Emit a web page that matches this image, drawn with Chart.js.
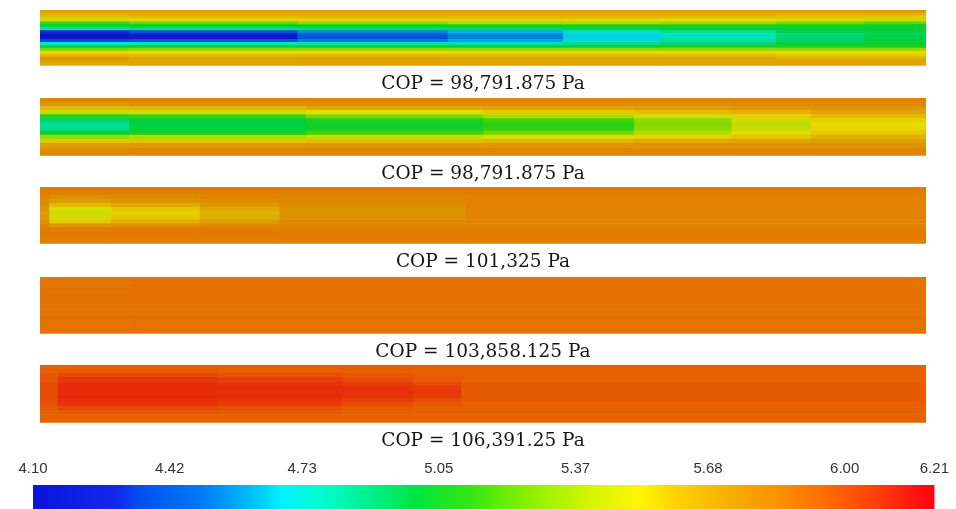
<!DOCTYPE html>
<html>
<head>
<meta charset="utf-8">
<script src="https://cdn.jsdelivr.net/npm/chart.js@4/dist/chart.umd.min.js"></script>
<style>
  html, body { margin: 0; padding: 0; background: #ffffff; }
  #wrap { position: relative; width: 956px; height: 509px; overflow: hidden; background: #ffffff; }
  .box { position: absolute; }
</style>
</head>
<body>
<div id="wrap">
  <div class="box" style="left:40px; top:10px;"><canvas id="s1" width="886" height="85"></canvas></div>
  <div class="box" style="left:40px; top:98px;"><canvas id="s2" width="886" height="87"></canvas></div>
  <div class="box" style="left:40px; top:187px;"><canvas id="s3" width="886" height="86"></canvas></div>
  <div class="box" style="left:40px; top:277px;"><canvas id="s4" width="886" height="86"></canvas></div>
  <div class="box" style="left:40px; top:365px;"><canvas id="s5" width="886" height="87"></canvas></div>
  <div class="box" style="left:0px; top:461px;"><canvas id="cbar" width="956" height="48"></canvas></div>
</div>
<script>
// ---------------- data ----------------
const copLabels = [
  'COP = 98,791.875 Pa',
  'COP = 98,791.875 Pa',
  'COP = 101,325 Pa',
  'COP = 103,858.125 Pa',
  'COP = 106,391.25 Pa'
];

const colorbarTicks = [4.10, 4.42, 4.73, 5.05, 5.37, 5.68, 6.00, 6.21];
const colorbarMin = 4.10;
const colorbarMax = 6.21;

// colour map
const cmapStops  = [4.10, 4.30, 4.35, 4.49, 4.61, 4.68, 4.77, 4.89, 5.00, 5.12, 5.26, 5.40, 5.52, 5.61, 5.73, 5.85, 5.96, 6.08, 6.21];
const cmapColors = ['#0a14dc','#1428eb','#0050f0','#0078f5','#00befa','#00f0ff','#00ffd2','#00f08c','#00e63c','#32e614','#8cf000','#d2f500','#fff500','#ffd200','#f5af00','#fa9100','#ff6900','#ff3c0a','#ff000f'];

// strip 1 : column edges (fraction of length) and values per row (top -> bottom)
const strip1Edges = [0, 0.10, 0.29, 0.46, 0.59, 0.70, 0.83, 0.93, 1.0];
const strip1Values = [
  [5.72,5.72,5.72,5.72,5.72,5.72,5.72,5.74],
  [5.66,5.67,5.67,5.67,5.67,5.67,5.66,5.66],
  [5.60,5.62,5.63,5.63,5.63,5.62,5.60,5.58],
  [5.45,5.50,5.54,5.55,5.55,5.53,5.48,5.42],
  [5.15,5.22,5.30,5.35,5.36,5.32,5.25,5.20],
  [4.98,5.00,5.03,5.06,5.08,5.08,5.06,5.04],
  [4.80,4.85,4.90,4.92,4.95,4.98,5.00,5.00],
  [4.30,4.38,4.55,4.62,4.72,4.84,4.94,4.98],
  [4.12,4.16,4.40,4.53,4.67,4.79,4.91,4.97],
  [4.14,4.18,4.40,4.53,4.67,4.79,4.91,4.97],
  [4.35,4.40,4.52,4.60,4.72,4.83,4.93,4.98],
  [4.75,4.78,4.80,4.80,4.86,4.92,4.98,5.02],
  [5.02,5.04,5.05,5.02,5.06,5.08,5.10,5.10],
  [5.25,5.28,5.30,5.30,5.30,5.30,5.30,5.30],
  [5.50,5.52,5.52,5.52,5.52,5.50,5.50,5.52],
  [5.62,5.62,5.63,5.62,5.62,5.62,5.58,5.58],
  [5.76,5.70,5.70,5.70,5.70,5.70,5.66,5.66],
  [5.72,5.70,5.70,5.70,5.70,5.70,5.70,5.70],
  [5.68,5.70,5.70,5.70,5.70,5.70,5.70,5.70]
];

const strip2Edges = [0, 0.10, 0.30, 0.50, 0.67, 0.78, 0.87, 1.0];
const strip2Values = [
  [5.84,5.84,5.84,5.84,5.84,5.84,5.84],
  [5.76,5.78,5.80,5.80,5.80,5.82,5.82],
  [5.62,5.64,5.68,5.70,5.72,5.74,5.76],
  [5.42,5.45,5.52,5.58,5.62,5.66,5.70],
  [5.12,5.15,5.26,5.36,5.46,5.55,5.62],
  [4.92,5.00,5.08,5.16,5.30,5.44,5.55],
  [4.84,4.97,5.04,5.11,5.27,5.41,5.52],
  [4.86,4.99,5.05,5.13,5.29,5.43,5.54],
  [5.02,5.08,5.16,5.24,5.37,5.50,5.58],
  [5.32,5.36,5.42,5.48,5.55,5.60,5.66],
  [5.58,5.60,5.62,5.65,5.68,5.70,5.72],
  [5.72,5.74,5.75,5.76,5.78,5.78,5.78],
  [5.80,5.82,5.82,5.82,5.83,5.83,5.83],
  [5.84,5.84,5.84,5.84,5.84,5.84,5.84]
];

const strip3Edges = [0, 0.01, 0.08, 0.18, 0.27, 0.48, 1.0];
const strip3Values = [
  [5.88,5.88,5.88,5.88,5.88,5.88],
  [5.86,5.86,5.86,5.86,5.86,5.86],
  [5.84,5.80,5.82,5.84,5.84,5.85],
  [5.82,5.74,5.78,5.81,5.83,5.85],
  [5.80,5.62,5.68,5.75,5.81,5.85],
  [5.76,5.48,5.58,5.68,5.79,5.85],
  [5.74,5.44,5.56,5.66,5.78,5.85],
  [5.76,5.46,5.58,5.68,5.79,5.85],
  [5.80,5.58,5.66,5.74,5.81,5.85],
  [5.84,5.76,5.80,5.83,5.84,5.85],
  [5.88,5.86,5.87,5.87,5.86,5.86],
  [5.88,5.88,5.88,5.88,5.87,5.87],
  [5.87,5.87,5.87,5.87,5.87,5.87],
  [5.86,5.86,5.86,5.86,5.86,5.86]
];

const strip4Edges = [0, 0.10, 1.0];
const strip4Values = [
  [5.89,5.90],[5.89,5.90],[5.89,5.90],[5.89,5.90],
  [5.90,5.90],[5.90,5.90],[5.90,5.90],[5.90,5.90],
  [5.90,5.90],[5.90,5.90],[5.90,5.90],[5.90,5.90],
  [5.90,5.90],[5.90,5.90]
];

const strip5Edges = [0, 0.02, 0.20, 0.34, 0.42, 0.475, 1.0];
const strip5Values = [
  [5.95,5.95,5.95,5.95,5.95,5.95],
  [5.96,5.97,5.96,5.96,5.96,5.96],
  [5.98,6.02,6.00,5.98,5.96,5.96],
  [6.00,6.08,6.06,6.02,5.98,5.96],
  [6.02,6.10,6.09,6.06,6.02,5.97],
  [6.02,6.11,6.10,6.09,6.06,5.97],
  [6.02,6.11,6.10,6.10,6.08,5.97],
  [6.02,6.11,6.10,6.09,6.06,5.97],
  [6.02,6.10,6.09,6.06,6.02,5.97],
  [6.00,6.08,6.06,6.02,5.98,5.96],
  [5.98,6.03,6.00,5.98,5.96,5.96],
  [5.96,5.98,5.97,5.96,5.96,5.96],
  [5.95,5.95,5.95,5.95,5.95,5.95],
  [5.95,5.95,5.95,5.95,5.95,5.95]
];

// ---------------- styling / helpers ----------------
const STRIP_SHADE = 0.9;

function hexToRgb(h) {
  return [parseInt(h.slice(1,3),16), parseInt(h.slice(3,5),16), parseInt(h.slice(5,7),16)];
}
const cmapRgb = cmapColors.map(hexToRgb);

function colorAt(v, shade) {
  let i = 0;
  if (v <= cmapStops[0]) i = 0;
  else if (v >= cmapStops[cmapStops.length - 1]) i = cmapStops.length - 2;
  else { while (i < cmapStops.length - 2 && v > cmapStops[i + 1]) i++; }
  const a = cmapStops[i], b = cmapStops[i + 1];
  let t = (v - a) / (b - a);
  t = Math.max(0, Math.min(1, t));
  const c0 = cmapRgb[i], c1 = cmapRgb[i + 1];
  const s = shade == null ? 1 : shade;
  const r = Math.round((c0[0] + (c1[0] - c0[0]) * t) * s);
  const g = Math.round((c0[1] + (c1[1] - c0[1]) * t) * s);
  const bl = Math.round((c0[2] + (c1[2] - c0[2]) * t) * s);
  return 'rgb(' + r + ',' + g + ',' + bl + ')';
}

function makeStrip(canvasId, edges, values, label) {
  const rowLabels = values.map((_, i) => 'row' + i);
  const datasets = [];
  for (let c = 0; c < edges.length - 1; c++) {
    datasets.push({
      label: 'col' + c,
      data: values.map(() => [edges[c], edges[c + 1]]),
      backgroundColor: values.map(row => colorAt(row[c], STRIP_SHADE)),
      borderWidth: 0,
      grouped: false,
      barPercentage: 1,
      categoryPercentage: 1
    });
  }
  new Chart(document.getElementById(canvasId), {
    type: 'bar',
    data: { labels: rowLabels, datasets: datasets },
    options: {
      indexAxis: 'y',
      responsive: false,
      animation: false,
      devicePixelRatio: 1,
      layout: { padding: 0 },
      scales: {
        x: { type: 'linear', min: 0, max: 1, display: false, offset: false },
        y: { type: 'category', display: false }
      },
      plugins: {
        legend: { display: false },
        tooltip: { enabled: false },
        title: {
          display: true,
          text: label,
          position: 'bottom',
          color: '#151515',
          font: { family: 'DejaVu Serif', size: 18.5, weight: 'normal' },
          padding: { top: 7, bottom: 0 }
        }
      }
    }
  });
}

makeStrip('s1', strip1Edges, strip1Values, copLabels[0]);
makeStrip('s2', strip2Edges, strip2Values, copLabels[1]);
makeStrip('s3', strip3Edges, strip3Values, copLabels[2]);
makeStrip('s4', strip4Edges, strip4Values, copLabels[3]);
makeStrip('s5', strip5Edges, strip5Values, copLabels[4]);

// ---------------- colour bar ----------------
const colorbarFill = {
  id: 'colorbarFill',
  beforeDatasetsDraw(chart) {
    const { ctx, chartArea } = chart;
    const xs = chart.scales.x;
    const x0 = xs.getPixelForValue(colorbarMin);
    const x1 = xs.getPixelForValue(colorbarMax);
    const grad = ctx.createLinearGradient(x0, 0, x1, 0);
    cmapStops.forEach((v, i) => {
      const p = (xs.getPixelForValue(v) - x0) / (x1 - x0);
      grad.addColorStop(Math.max(0, Math.min(1, p)), cmapColors[i]);
    });
    ctx.save();
    ctx.fillStyle = grad;
    ctx.fillRect(x0, chartArea.top, x1 - x0, chartArea.bottom - chartArea.top);
    ctx.restore();
  }
};

new Chart(document.getElementById('cbar'), {
  type: 'scatter',
  data: { datasets: [{ data: [], pointRadius: 0 }] },
  options: {
    responsive: false,
    animation: false,
    devicePixelRatio: 1,
    layout: { padding: { left: 33, right: 20, top: 0, bottom: 0 } },
    scales: {
      x: {
        type: 'linear',
        position: 'top',
        min: colorbarMin,
        max: colorbarMax,
        afterBuildTicks(scale) { scale.ticks = colorbarTicks.map(v => ({ value: v })); },
        grid: { display: false, drawTicks: false },
        border: { display: false },
        ticks: {
          autoSkip: false,
          maxRotation: 0,
          padding: 7,
          color: '#333333',
          font: { family: 'Liberation Sans', size: 15 },
          callback: (v) => Number(v).toFixed(2)
        }
      },
      y: { display: false, min: 0, max: 1 }
    },
    plugins: { legend: { display: false }, tooltip: { enabled: false } }
  },
  plugins: [colorbarFill]
});
</script>
</body>
</html>
